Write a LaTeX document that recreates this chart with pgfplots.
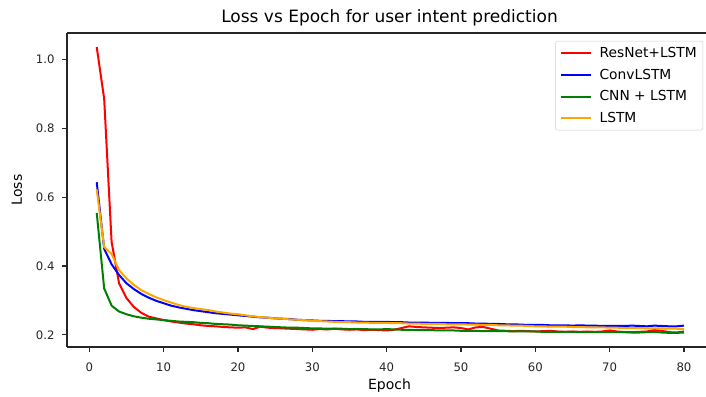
\documentclass[border=0pt]{standalone}
\usepackage{pgfplots}
\pgfplotsset{compat=1.18}
\usepackage{pgfplotstable}
\usepackage{fontspec}
\setmainfont{DejaVu Sans}
\definecolor{mplred}{HTML}{FF0000}
\definecolor{mplblue}{HTML}{0000FF}
\definecolor{mplgreen}{HTML}{008000}
\definecolor{mplorange}{HTML}{FFA500}

\pgfplotstableread{
e res conv cnn lstm
1 1.035 0.643 0.554 0.622
2 0.885 0.450 0.335 0.455
3 0.470 0.405 0.285 0.435
4 0.350 0.374 0.268 0.388
5 0.307 0.350 0.260 0.364
6 0.281 0.333 0.254 0.345
7 0.264 0.319 0.250 0.330
8 0.253 0.308 0.247 0.319
9 0.248 0.299 0.245 0.309
10 0.243 0.292 0.243 0.301
11 0.239 0.285 0.241 0.294
12 0.236 0.280 0.239 0.287
13 0.233 0.276 0.238 0.282
14 0.231 0.272 0.237 0.278
15 0.228 0.269 0.235 0.275
16 0.226 0.266 0.234 0.272
17 0.225 0.263 0.232 0.268
18 0.223 0.261 0.231 0.265
19 0.222 0.259 0.230 0.262
20 0.221 0.257 0.228 0.260
21 0.222 0.255 0.227 0.257
22 0.217 0.253 0.226 0.254
23 0.224 0.251 0.225 0.252
24 0.221 0.250 0.224 0.250
25 0.220 0.248 0.223 0.248
26 0.219 0.247 0.222 0.247
27 0.218 0.246 0.221 0.245
28 0.217 0.244 0.221 0.244
29 0.216 0.243 0.220 0.243
30 0.215 0.242 0.219 0.241
31 0.217 0.241 0.219 0.240
32 0.216 0.241 0.218 0.239
33 0.218 0.240 0.218 0.238
34 0.216 0.240 0.218 0.237
35 0.215 0.239 0.217 0.237
36 0.216 0.239 0.217 0.236
37 0.214 0.238 0.217 0.236
38 0.215 0.238 0.216 0.235
39 0.214 0.238 0.216 0.235
40 0.213 0.238 0.217 0.235
41 0.215 0.237 0.216 0.234
42 0.220 0.237 0.215 0.234
43 0.225 0.236 0.215 0.233
44 0.223 0.236 0.214 0.233
45 0.222 0.236 0.214 0.232
46 0.221 0.235 0.214 0.232
47 0.220 0.235 0.213 0.232
48 0.221 0.235 0.213 0.231
49 0.222 0.234 0.213 0.231
50 0.220 0.234 0.212 0.231
51 0.216 0.234 0.212 0.230
52 0.222 0.233 0.212 0.230
53 0.223 0.233 0.211 0.229
54 0.218 0.232 0.211 0.229
55 0.213 0.232 0.211 0.228
56 0.212 0.231 0.211 0.228
57 0.211 0.231 0.210 0.227
58 0.212 0.230 0.210 0.227
59 0.211 0.229 0.210 0.226
60 0.210 0.229 0.210 0.225
61 0.211 0.229 0.209 0.225
62 0.212 0.228 0.209 0.224
63 0.210 0.228 0.209 0.224
64 0.209 0.228 0.209 0.224
65 0.210 0.227 0.209 0.223
66 0.209 0.228 0.208 0.223
67 0.210 0.227 0.208 0.222
68 0.209 0.227 0.208 0.222
69 0.210 0.226 0.208 0.222
70 0.213 0.226 0.208 0.221
71 0.210 0.226 0.208 0.221
72 0.208 0.226 0.208 0.220
73 0.208 0.227 0.207 0.220
74 0.209 0.226 0.207 0.220
75 0.210 0.225 0.208 0.219
76 0.214 0.227 0.209 0.219
77 0.212 0.226 0.207 0.219
78 0.208 0.225 0.206 0.218
79 0.207 0.225 0.206 0.218
80 0.210 0.227 0.207 0.217
}\losstable

\begin{document}
\begin{tikzpicture}
\begin{axis}[
  at={(67pt,49pt)}, anchor=south west,
  scale only axis,
  width=645pt, height=314pt,
  xmin=-3, xmax=83.77,
  ymin=0.165, ymax=1.076,
  axis x line=box, axis y line*=left,
  xtick={0,10,...,80},
  ytick={0.2,0.4,0.6,0.8,1.0},
  yticklabel style={/pgf/number format/fixed, /pgf/number format/fixed zerofill, /pgf/number format/precision=1, xshift=-4pt},
  xticklabel style={yshift=-7pt},
  /pgf/number format/assume math mode=true,
  tick align=outside,
  major tick length=5pt,
  tick style={black!85, line width=1.1pt},
  xtick pos=bottom, ytick pos=left,
  axis line style={line width=1.1pt, black!85},
  ticklabel style={font=\fontsize{11.7}{14}\selectfont, text=black!85},
  title={Loss vs Epoch for user intent prediction},
  title style={at={(axis description cs:0.5,1)}, anchor=base, yshift=4pt, font=\fontsize{17}{20}\selectfont},
  xlabel={Epoch},
  xlabel style={at={(axis description cs:0.5,-0.1338)}, anchor=base, font=\fontsize{14}{16}\selectfont},
  ylabel={Loss},
  ylabel style={at={(axis description cs:-0.07,0.5)}, anchor=base, font=\fontsize{14}{16}\selectfont},
  legend cell align=left,
  legend style={at={(1,1)}, anchor=north east, xshift=-9pt, yshift=-8pt,
    draw=black!20, rounded corners=2pt, inner sep=4pt,
    font=\fontsize{13.8}{16}\selectfont,
    row sep=6pt,
    /tikz/every odd column/.append style={column sep=6pt}},
  legend image code/.code={\draw[#1, line width=2pt] (0pt,0pt) -- (30pt,0pt);},
  every axis plot/.append style={line width=2pt, line join=round},
]
\addplot[mplred, no marks] table[x=e, y=res] {\losstable};
\addlegendentry{ResNet+LSTM}
\addplot[mplblue, no marks] table[x=e, y=conv] {\losstable};
\addlegendentry{ConvLSTM}
\addplot[mplgreen, no marks] table[x=e, y=cnn] {\losstable};
\addlegendentry{CNN + LSTM}
\addplot[mplorange, no marks] table[x=e, y=lstm] {\losstable};
\addlegendentry{LSTM}
\end{axis}
\pgfresetboundingbox
\path (0pt,0pt) rectangle (706pt,396pt);
\end{tikzpicture}
\end{document}
